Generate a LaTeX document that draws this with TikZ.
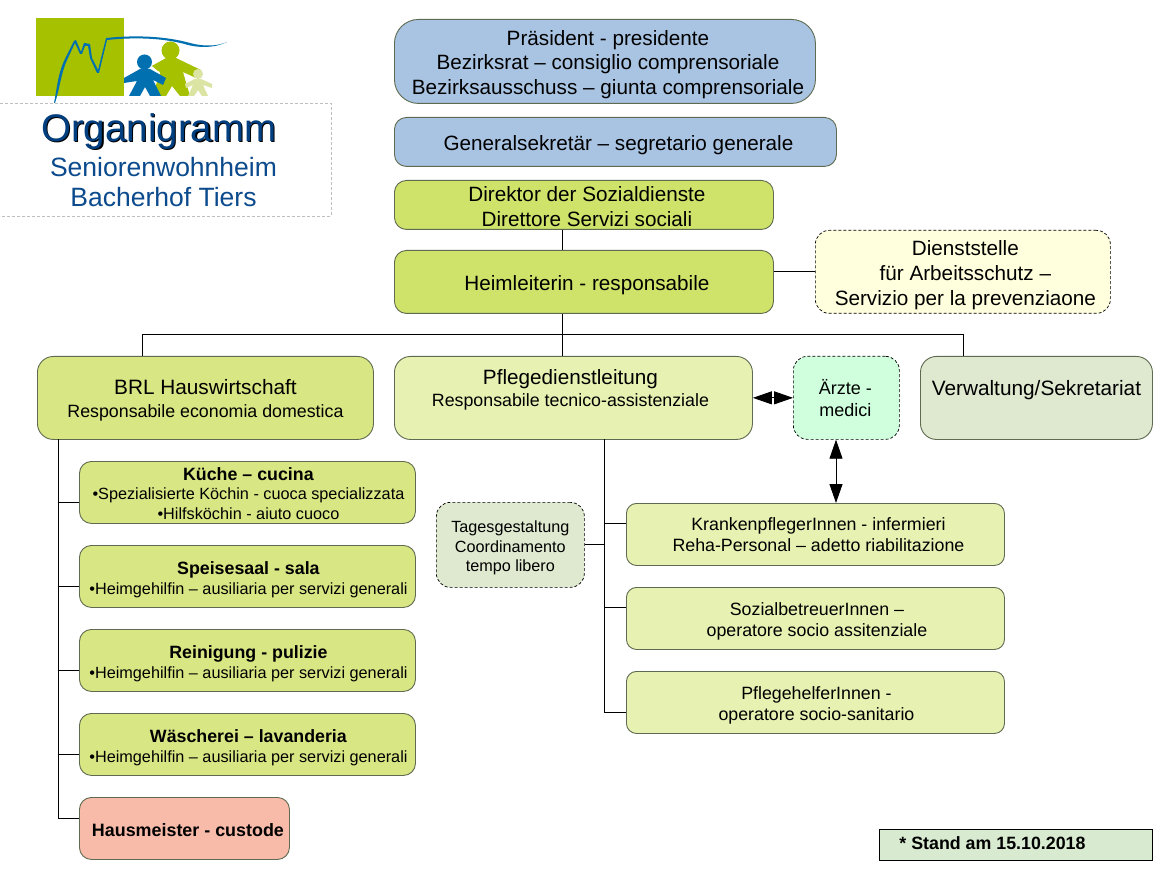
\documentclass[tikz,border=0pt]{standalone}
\usepackage{fontspec}
\setmainfont{Liberation Sans}
\usetikzlibrary{arrows.meta}
\newcommand{\fs}[2]{\fontsize{#1pt}{#2pt}\selectfont}
\definecolor{cblue}{HTML}{A9C4E2}
\definecolor{cgreen}{HTML}{CFE26A}
\definecolor{cmid}{HTML}{D8E783}
\definecolor{cpale}{HTML}{E6F1B2}
\definecolor{cyel}{HTML}{FFFFDD}
\definecolor{cmint}{HTML}{CFFFDD}
\definecolor{cgrey}{HTML}{DFE9CF}
\definecolor{cred}{HTML}{F8BBAA}
\definecolor{cstand}{HTML}{D8EBD0}
\definecolor{edgeg}{HTML}{5F6B50}
\definecolor{navy}{HTML}{003F7F}
\definecolor{navyb}{HTML}{0B4A8C}
\definecolor{lblue}{HTML}{0070B0}
\definecolor{lgreen}{HTML}{A6C100}
\definecolor{lpale}{HTML}{DCE4A4}
\tikzset{
 box/.style={draw=edgeg,line width=0.9pt,rounded corners=#1,inner sep=0pt},
 box/.default=12pt,
 dbox/.style={draw=black,densely dashed,line width=0.7pt,rounded corners=14pt,inner sep=0pt},
 conn/.style={draw=black,line width=0.9pt},
 both/.style={conn,{Triangle[length=19pt,width=13pt]}-{Triangle[length=19pt,width=13pt]}},
}
% name, style, x0,y0,x1,y1, raise, hshift, text
\newcommand{\bx}[9]{%
 \node[#2,minimum width={(#5-#3)*1pt},minimum height={(#6-#4)*1pt},anchor=north west] (#1) at (#3,#4)
 {\fs{10}{12}\makebox[0pt]{\hspace*{#8pt}\hspace*{#8pt}\raisebox{\dimexpr#7pt-2.5pt\relax}[0pt][0pt]{\parbox{420pt}{\centering #9\par}}}};}
\begin{document}
\begin{tikzpicture}[x=1pt,y=-1pt]
\useasboundingbox (0,0) rectangle (1165,877);
\fill[white] (0,0) rectangle (1165,877);
% logo
\fill[lgreen] (36,18) rectangle (124,96);
\fill[lgreen] (150,67) -- (166,58) -- (176,58) -- (201,70) -- (196,78) -- (183,72) -- (190,96) -- (180,96) -- (172,86) -- (166,96) -- (150,96) -- (160,72) -- cycle;
\fill[lgreen] (170.5,50.5) circle (9);
\fill[white] (146,61) -- (160,73) -- (152,96) -- (130,96) -- cycle;
\fill[lblue] (144.5,62) circle (7.5);
\fill[lblue] (124,78) -- (140,69) -- (150,69) -- (166,78) -- (163,85) -- (153,80) -- (161,96) -- (150,96) -- (145,87) -- (140,96) -- (129,96) -- (137,81) -- (124,83) -- cycle;
\fill[lpale] (198,74) circle (5);
\fill[lpale] (185,84) -- (195,79) -- (201,79) -- (212,84) -- (212,88) -- (203,85) -- (208,96) -- (202,96) -- (198,90) -- (194,96) -- (188,96) -- (193,85) -- (186,88) -- cycle;
\fill[lblue] (54,103) .. controls (57,88) and (58,72) .. (66,57) -- (74,41) -- (76,40) -- (81,52) -- (84,43) -- (90,44) -- (92,58) -- (98,70) -- (106,38) .. controls (135,35) and (165,36) .. (190,43) .. controls (205,47) and (218,46) .. (227,42) .. controls (215,48) and (200,48) .. (188,45) .. controls (165,38) and (135,37) .. (107,40) -- (99,73) -- (97,73) -- (90,58) -- (88,46) -- (85,46) -- (82,54) -- (80,54) -- (75,43) -- (68,58) .. controls (61,72) and (60,88) .. (55,103) -- cycle;
% title frame
\draw[gray!50,densely dashed,line width=0.5pt] (0,103) -- (331,103) -- (331,216) -- (0,216);
\node[text=black,inner sep=0pt] (tsh) at (160,133) {\fs{38.5}{40}Organigramm};
\node[text=navy,inner sep=0pt] (ttl) at (158.8,131.5) {\fs{38.5}{40}Organigramm};
\node[text=navyb,inner sep=0pt] (t2) at (163.5,167) {\fs{26.5}{30}Seniorenwohnheim};
\node[text=navyb,inner sep=0pt] (t3) at (163.5,197) {\fs{26.5}{30}Bacherhof Tiers};
% boxes
\bx{pres}{box=24pt,fill=cblue}{394}{19}{815}{103}{-3}{3}{\fs{20.7}{24.5}Präsident - presidente\\Bezirksrat – consiglio comprensoriale\\Bezirksausschuss – giunta comprensoriale}
\bx{gen}{box=12pt,fill=cblue}{394}{117}{836}{166}{-3}{3}{\fs{20.7}{24}Generalsekretär – segretario generale}
\bx{dir}{box=12pt,fill=cgreen}{394}{180}{773}{229}{-2}{3}{\fs{20.7}{25}Direktor der Sozialdienste\\Direttore Servizi sociali}
\bx{heim}{box=12pt,fill=cgreen}{394}{250}{773}{313}{-3}{3}{\fs{20.7}{24}Heimleiterin - responsabile}
\bx{dienst}{dbox,fill=cyel}{815}{230}{1110}{313}{-3}{2.5}{\fs{20.7}{25.2}Dienststelle\\für Arbeitsschutz –\\Servizio per la prevenziaone}
\bx{brl}{box=16pt,fill=cmid}{37}{356}{373}{439}{-2.5}{0}{\fs{20.8}{23.5}BRL Hauswirtschaft\\\fs{17.8}{23}Responsabile economia domestica}
\bx{pfl}{box=16pt,fill=cpale}{394}{356}{752}{439}{8.5}{-3}{\fs{20.7}{23}Pflegedienstleitung\\\fs{17.8}{22}Responsabile tecnico-assistenziale}
\bx{arzt}{dbox,fill=cmint}{793}{356}{899}{439}{0}{-1}{\fs{18}{21.5}Ärzte -\\medici}
\bx{verw}{box=16pt,fill=cgrey}{920}{356}{1152}{439}{8}{0}{\fs{20.8}{24}Verwaltung/Sekretariat}
\bx{kue}{box=12pt,fill=cmid}{79}{461}{415}{523}{-1}{1}{\fs{17.8}{19.5}\textbf{Küche – cucina}\\\fs{16.25}{19.5}•Spezialisierte Köchin - cuoca specializzata\\•Hilfsköchin - aiuto cuoco}
\bx{spei}{box=12pt,fill=cmid}{79}{545}{415}{607}{-3}{1}{\fs{17.8}{20}\textbf{Speisesaal - sala}\\\fs{16.25}{20}•Heimgehilfin – ausiliaria per servizi generali}
\bx{rein}{box=12pt,fill=cmid}{79}{629}{415}{691}{-3}{1}{\fs{17.8}{20}\textbf{Reinigung - pulizie}\\\fs{16.25}{20}•Heimgehilfin – ausiliaria per servizi generali}
\bx{wae}{box=12pt,fill=cmid}{79}{713}{415}{775}{-3}{1}{\fs{17.8}{20}\textbf{Wäscherei – lavanderia}\\\fs{16.25}{20}•Heimgehilfin – ausiliaria per servizi generali}
\bx{haus}{box=12pt,fill=cred}{79}{797}{289}{859}{-2}{3.5}{\fs{17.9}{20}\textbf{Hausmeister - custode}}
\bx{tag}{dbox,fill=cgrey}{436}{502}{584}{587}{-3}{0}{\fs{16.2}{19.2}Tagesgestaltung\\Coordinamento\\tempo libero}
\bx{kran}{box=10pt,fill=cpale}{626}{503}{1004}{565}{0}{3}{\fs{17.8}{20.5}KrankenpflegerInnen - infermieri\\Reha-Personal – adetto riabilitazione}
\bx{soz}{box=10pt,fill=cpale}{626}{587}{1004}{649}{-3}{1.5}{\fs{17.8}{20.5}SozialbetreuerInnen –\\operatore socio assitenziale}
\bx{phe}{box=10pt,fill=cpale}{626}{671}{1004}{733}{-3}{1}{\fs{17.8}{20.5}PflegehelferInnen -\\operatore socio-sanitario}
\node[draw=black,line width=0.9pt,fill=cstand,minimum width=273pt,minimum height=31pt,anchor=north west,inner sep=0pt] (stand) at (878.5,829) {\hspace{-46pt}\raisebox{-4.5pt}[0pt][0pt]{\fs{17.8}{20}\textbf{* Stand am 15.10.2018}}};
% connectors
\coordinate (trunk) at (562.5,334);
\coordinate (hl) at (142,334);
\coordinate (hr) at (963,334);
\coordinate (bt) at (58.5,439);
\coordinate (pt) at (604,439);
\coordinate (hy) at (0,271);
\coordinate (vx) at (836,0);
\coordinate (b1) at (0,502);
\coordinate (b2) at (0,586);
\coordinate (b3) at (0,670);
\coordinate (b4) at (0,754);
\coordinate (b5) at (0,818);
\coordinate (p1) at (0,523);
\coordinate (p2) at (0,607);
\coordinate (p3) at (0,712);
\draw[conn] (dir.south -| trunk) -- (heim.north -| trunk);
\draw[conn] (heim.east |- hy) -- (dienst.west |- hy);
\draw[conn] (heim.south -| trunk) -- (trunk);
\draw[conn] (hl) -- (hr);
\draw[conn] (hl) -- (brl.north -| hl);
\draw[conn] (trunk) -- (pfl.north -| trunk);
\draw[conn] (hr) -- (verw.north -| hr);
\draw[conn] (bt) |- (haus.west |- b5);
\draw[conn] (bt |- b1) -- (kue.west |- b1);
\draw[conn] (bt |- b2) -- (spei.west |- b2);
\draw[conn] (bt |- b3) -- (rein.west |- b3);
\draw[conn] (bt |- b4) -- (wae.west |- b4);
\draw[conn] (pt) |- (phe.west |- p3);
\draw[conn] (pt |- p1) -- (kran.west |- p1);
\draw[conn] (pt |- p2) -- (soz.west |- p2);
\draw[conn] (tag.east) -- (pt |- tag.east);
\draw[both] (pfl.east |- arzt.west) -- (arzt.west);
\draw[both] (arzt.south -| vx) -- (vx |- kran.north);
\end{tikzpicture}
\end{document}
